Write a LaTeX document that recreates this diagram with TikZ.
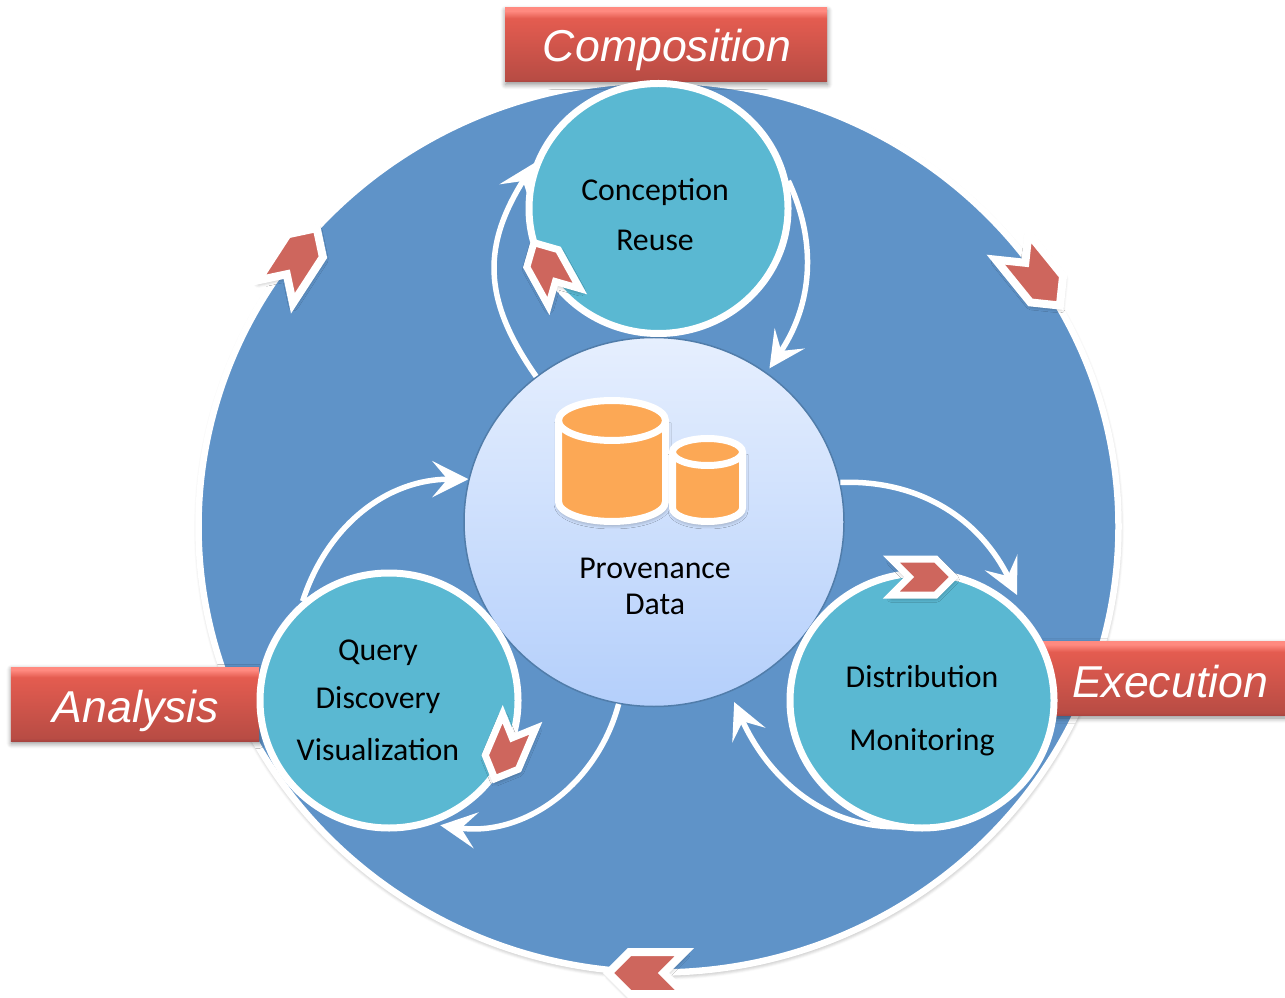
\documentclass[tikz,border=0pt]{standalone}
\usepackage{fontspec}
\setmainfont{Carlito}
\newfontfamily\titlefont{Liberation Sans}
\usetikzlibrary{shapes.geometric, shapes.symbols, arrows.meta, shadows.blur}
\definecolor{cycleblue}{HTML}{5F93C8}
\definecolor{stageteal}{HTML}{5AB8D2}
\definecolor{markred}{HTML}{CE665D}
\definecolor{dbfill}{HTML}{FCA855}
\definecolor{storetop}{HTML}{E6EFFE}
\definecolor{storebottom}{HTML}{B4CFFB}
\definecolor{barlow}{HTML}{A84440}
\definecolor{bardark}{HTML}{B84C44}
\definecolor{barmid}{HTML}{E45C50}
\definecolor{barhigh}{HTML}{FF8A80}
\pgfdeclareverticalshading{redbar}{100bp}{
    color(0bp)=(barlow); color(25bp)=(barlow); color(27bp)=(bardark); color(68bp)=(barmid);
    color(73bp)=(barhigh); color(100bp)=(barhigh)}
\tikzstyle{softshadow} = [blur shadow={shadow blur steps=6, shadow blur radius=0.1cm, shadow xshift=0.01cm, shadow yshift=-0.05cm, shadow opacity=45}]
\tikzstyle{cycle} = [ellipse, minimum width=18.4cm, minimum height=17.84cm, inner sep=0,
    draw=white, line width=0.13cm, fill=cycleblue, softshadow]
\tikzstyle{store} = [ellipse, minimum width=7.6cm, minimum height=7.38cm, inner sep=0,
    draw=cycleblue!85!black, line width=0.03cm, top color=storetop, bottom color=storebottom]
\tikzstyle{stage} = [ellipse, inner sep=0,
    draw=white, line width=0.14cm, fill=stageteal]
\tikzstyle{phase} = [rectangle, minimum height=1.48cm, inner sep=0, shading=redbar, softshadow]
\tikzstyle{phasetext} = [anchor=base, inner sep=0, text=white, font=\titlefont\itshape\fontsize{25.4}{30}\selectfont]
\tikzstyle{stagetext} = [anchor=base, inner sep=0, align=center, text=black, font=\fontsize{18.1}{22}\selectfont]
\tikzstyle{bigmark} = [signal, signal to=east, signal from=west, signal pointer angle=90, inner sep=0, outer sep=0,
    minimum width=1.52cm, minimum height=0.84cm, fill=markred, draw=white, line width=0.16cm, softshadow]
\tikzstyle{smallmark} = [bigmark, minimum width=1.25cm, minimum height=0.72cm, line width=0.14cm]
\tikzstyle{db} = [draw=white, fill=dbfill, line width=0.14cm]
\tikzstyle{flow} = [draw=white, line width=0.11cm, -{Stealth[length=0.72cm, width=0.72cm, inset=0.3cm]}]

\begin{document}
\begin{tikzpicture}
                \useasboundingbox (0,0) rectangle (25.7,19.94);

                \node (cycle) [cycle] at (13.17,9.41) {};

                \node (composition) [phase, minimum width=6.44cm] at (13.32,19.04) {};
                \node (analysis) [phase, minimum width=4.96cm] at (2.70,5.86) {};
                \node (execution) [phase, minimum width=4.9cm] at (23.25,6.37) {};
                \node (compositiontext) [phasetext] at (13.34,18.70) {Composition};
                \node (analysistext) [phasetext] at (2.72,5.50) {Analysis};
                \node (executiontext) [phasetext] at (23.40,6.00) {Execution};

                \node (data) [store] at (13.08,9.50) {};
                \node (conception) [stage, minimum width=5.18cm, minimum height=5.0cm] at (13.17,15.77) {};
                \node (query) [stage, minimum width=5.16cm, minimum height=5.1cm] at (7.78,5.93) {};
                \node (distribution) [stage, minimum width=5.28cm, minimum height=5.1cm] at (18.44,5.93) {};
                \coordinate (distributionin) at (20.34,8.04);

                % big can, then small can
                \draw [db, softshadow]
                    (11.17,11.53) -- (11.17,9.91) arc [start angle=180, end angle=360, x radius=1.07, y radius=0.40] -- (13.31,11.53);
                \draw [db] (12.24,11.53) ellipse [x radius=1.07, y radius=0.40];
                \draw [db, softshadow]
                    (13.45,10.90) -- (13.45,9.78) arc [start angle=180, end angle=360, x radius=0.70, y radius=0.27] -- (14.85,10.90);
                \draw [db] (14.15,10.90) ellipse [x radius=0.70, y radius=0.27];

                \node (conceptionlabel) [stagetext] at (13.10,15.92) {Conception};
                \node (reuselabel) [stagetext] at (13.10,14.92) {Reuse};
                \node (distributionlabel) [stagetext] at (18.44,6.20) {Distribution};
                \node (monitoringlabel) [stagetext] at (18.44,4.94) {Monitoring};
                \node (querylabel) [stagetext] at (7.56,6.74) {Query};
                \node (discoverylabel) [stagetext] at (7.56,5.78) {Discovery};
                \node (visualizationlabel) [stagetext] at (7.56,4.74) {Visualization};
                \node (provenancelabel) [stagetext] at (13.10,8.38) {Provenance};
                \node (datalabel) [stagetext] at (13.10,7.66) {Data};

                \draw [flow] (data.129) to[out=125, in=238, looseness=1.15] (conception.160);
                \draw [flow, shorten >=0.1cm] (conception.12) to[out=-65, in=56] (data.53);
                \draw [flow] (data.12) to[out=2, in=116] (distributionin);
                \draw [flow, shorten >=0.22cm] ([yshift=0.08cm]distribution.263) to[out=183, in=-66] (data.-66);
                \draw [flow] (data.259) to[out=-105, in=-8] ([yshift=-0.08cm]query.-67);
                \draw [flow] (query.131) to[out=72, in=180] (data.167);

                \node (markleft) [bigmark, rotate=57] at (5.92,14.74) {};
                \node (markright) [bigmark, rotate=-51] at (20.72,14.42) {};
                \node (markbottom) [bigmark, rotate=180] at (12.93,0.48) {};
                \node (markconception) [smallmark, rotate=119] at (10.98,14.54) {};
                \node (markdistribution) [smallmark] at (18.45,8.40) {};
                \node (markquery) [smallmark, rotate=247] at (10.14,4.94) {};
            \end{tikzpicture}
\end{document}
